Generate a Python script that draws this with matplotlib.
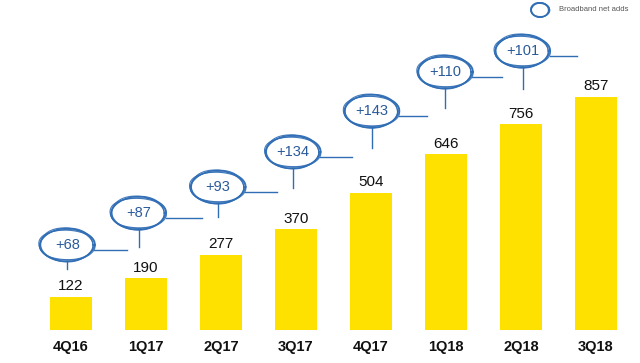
import numpy as np
import matplotlib
matplotlib.use('Agg')
from matplotlib import pyplot as plt

plt.rcParams['font.family'] = ['Liberation Sans', 'DejaVu Sans']

quarters = ['4Q16', '1Q17', '2Q17', '3Q17', '4Q17', '1Q18', '2Q18', '3Q18']
subscribers = [122, 190, 277, 370, 504, 646, 756, 857]
net_adds = ['+68', '+87', '+93', '+134', '+143', '+110', '+101']

# height of each bubble (in data units) - layout only
bubble_y = [313, 430, 526, 655, 805, 949, 1026]
bubble_dx = [-0.05, -0.1, -0.04, -0.04, 0.01, -0.01, 0.02]
stem_len = [28, 65, 50, 75, 75, 72, 82]

YELLOW = '#ffe100'
BLUE = '#2f6db5'

fig = plt.figure(figsize=(6.4, 3.63), dpi=100)
ax = fig.add_axes([0, 0, 1, 1])
x = np.arange(len(quarters))
ax.bar(x, subscribers, width=0.57, color=YELLOW)

for xi, v in zip(x, subscribers):
    ax.text(xi, v + 14, str(v), ha='center', va='bottom', fontsize=11,
            color='#111111')
    ax.text(xi, -62, quarters[xi], ha='center', va='center', fontsize=10.5,
            fontweight='bold', color='#111111')

# scribbled ellipse: a few overlapping loops with small fixed wobbles
t = np.linspace(0, 2 * np.pi, 120)
loops = [(1.0, 1.0, 0.0, 0.0), (1.04, 0.95, 0.6, -0.01),
         (0.97, 1.05, 1.7, -0.015), (1.02, 0.99, 2.9, 0.0),
         (0.99, 1.02, 4.1, -0.005)]


def scribble(cx, cy, w, h, lw=0.8):
    for sw, sh, ph, dx in loops:
        rx = w / 2 * sw * (1 + 0.03 * np.sin(3 * t + ph))
        ry = h / 2 * sh * (1 + 0.04 * np.cos(2 * t + ph))
        ax.plot(cx + dx + rx * np.cos(t), cy + ry * np.sin(t), color=BLUE,
                lw=lw, alpha=0.9)


ew, eh = 0.72, 118
for i, lab in enumerate(net_adds):
    cx = x[i] + bubble_dx[i]
    cy = bubble_y[i]
    scribble(cx, cy, ew, eh)
    ax.text(cx, cy, lab, ha='center', va='center', fontsize=10.5,
            color='#2a5a9a')
    # stem down
    ax.plot([cx, cx], [cy - eh / 2, cy - eh / 2 - stem_len[i]], color=BLUE,
            lw=1.0)
    # line to the right
    hy = cy - 18
    ax.plot([cx + ew / 2, x[i] + 1 - 0.25], [hy, hy], color=BLUE, lw=1.0)

# legend
scribble(6.26, 1177, 0.24, 52, lw=0.7)
ax.text(6.51, 1177, 'Broadband net adds', ha='left', va='center',
        fontsize=5.5, color='#555555')

ax.set_xlim(-71 / 75, (640 - 71) / 75)
ax.set_ylim(-33 / 0.2719, 330 / 0.2719)
ax.axis('off')

fig.savefig('out.png', dpi=100)
